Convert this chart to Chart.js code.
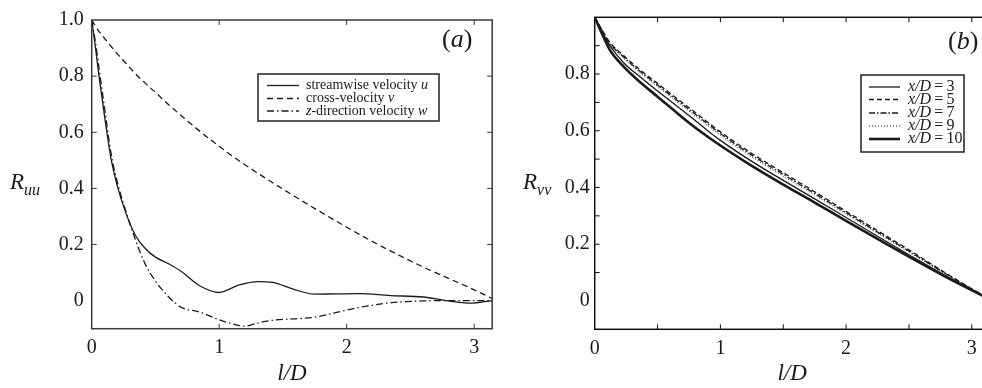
<!DOCTYPE html>
<html>
<head>
<meta charset="utf-8">
<script src="https://cdn.jsdelivr.net/npm/chart.js@4.4.1/dist/chart.umd.min.js"></script>
<style>
  html, body { margin: 0; padding: 0; background: #fff; width: 982px; height: 388px; overflow: hidden; }
  canvas { position: absolute; top: 0; }
  #chartA { left: 0; }
  #chartB { left: 500px; }
</style>
</head>
<body>
<canvas id="chartA" width="500" height="388"></canvas>
<canvas id="chartB" width="500" height="388"></canvas>
<script>
// ── Panel (a): correlation of the three velocity components ─────────────
const lagA = [0, 0.03, 0.06, 0.1, 0.15, 0.2, 0.27, 0.34, 0.42, 0.5, 0.6, 0.7, 0.85, 1.0,
              1.15, 1.2, 1.3, 1.42, 1.58, 1.75, 1.92, 2.1, 2.34, 2.6, 2.78, 2.97, 3.14];
const ruuStream = [1.0, 0.9, 0.79, 0.66, 0.51, 0.41, 0.31, 0.235, 0.186, 0.155, 0.132, 0.105, 0.052, 0.029,
                   0.055, 0.061, 0.068, 0.065, 0.041, 0.023, 0.024, 0.025, 0.018, 0.013, 0.0, -0.009, 0.0];
const ruuCross  = [1.0, 0.978, 0.958, 0.935, 0.907, 0.88, 0.845, 0.81, 0.775, 0.742, 0.7, 0.66, 0.603, 0.55,
                   0.5, 0.485, 0.455, 0.42, 0.375, 0.328, 0.283, 0.236, 0.178, 0.12, 0.083, 0.045, 0.008];
const ruuZdir   = [1.0, 0.92, 0.82, 0.69, 0.53, 0.425, 0.315, 0.221, 0.13, 0.07, 0.015, -0.023, -0.041, -0.068,
                   -0.088, -0.091, -0.08, -0.07, -0.065, -0.059, -0.042, -0.024, -0.008, -0.001, 0.0, 0.0, 0.0];
const xTicksA = [0, 1, 2, 3];
const yTicksA = [0, 0.2, 0.4, 0.6, 0.8, 1.0];
const xMarksA = [1, 2, 3];
const yMarksA = [0.2, 0.4, 0.6, 0.8];

// ── Panel (b): R_vv at several downstream stations ──────────────────────
const lagB = [0, 0.05, 0.12, 0.23, 0.36, 0.5, 0.63, 0.76, 0.88, 1.0, 1.25, 1.5, 1.75, 2.0, 2.25, 2.5, 2.8, 3.08, 3.14];
const rvvX3  = [1.0, 0.955, 0.9, 0.84, 0.79, 0.74, 0.695, 0.65, 0.607, 0.566, 0.492, 0.425, 0.36, 0.294, 0.228, 0.163, 0.087, 0.021, 0.008];
const rvvX5  = [1.0, 0.962, 0.912, 0.865, 0.815, 0.767, 0.722, 0.678, 0.637, 0.596, 0.52, 0.452, 0.385, 0.316, 0.248, 0.18, 0.096, 0.023, 0.009];
const rvvX7  = [1.0, 0.96, 0.908, 0.86, 0.81, 0.761, 0.716, 0.672, 0.631, 0.59, 0.514, 0.446, 0.379, 0.311, 0.243, 0.176, 0.094, 0.022, 0.009];
const rvvX9  = [1.0, 0.958, 0.905, 0.856, 0.805, 0.756, 0.71, 0.666, 0.625, 0.584, 0.508, 0.44, 0.374, 0.306, 0.239, 0.172, 0.092, 0.022, 0.008];
const rvvX10 = [1.0, 0.95, 0.885, 0.826, 0.772, 0.72, 0.672, 0.625, 0.585, 0.548, 0.476, 0.41, 0.347, 0.282, 0.219, 0.156, 0.083, 0.02, 0.007];
const xTicksB = [0, 1, 2, 3];
const yTicksB = [0, 0.2, 0.4, 0.6, 0.8];
const xMarksB = [0.5, 1, 1.5, 2, 2.5, 3];
const yMarksB = [0.1, 0.2, 0.3, 0.4, 0.5, 0.6, 0.7, 0.8, 0.9];

const SERIF = '"Liberation Serif", "Times New Roman", serif';
const INK = '#1a1a1a';

const pts = (xs, ys) => xs.map((x, i) => ({ x, y: ys[i] }));

function line(label, xs, ys, dash, width) {
  return {
    label, data: pts(xs, ys),
    borderColor: INK, borderWidth: width || 1.3, borderDash: dash || [],
    pointRadius: 0, cubicInterpolationMode: 'monotone', fill: false,
  };
}

// draw a run of [text, italic] pieces left to right
function richText(ctx, segs, x, y, size) {
  segs.forEach(([t, it]) => {
    ctx.font = (it ? 'italic ' : '') + size + 'px ' + SERIF;
    ctx.fillText(t, x, y);
    x += ctx.measureText(t).width;
  });
  return x;
}

// frame with inward tick marks, boxed legend, panel tag and ordinate symbol
const decorations = {
  id: 'decorations',
  afterDatasetsDraw(chart, args, o) {
    const { ctx, chartArea: a, scales: { x, y } } = chart;
    ctx.save();
    ctx.strokeStyle = o.frameColor;
    ctx.lineWidth = o.frameWidth;
    ctx.strokeRect(a.left, a.top, a.right - a.left, a.bottom - a.top);

    ctx.lineWidth = 1;
    ctx.beginPath();
    o.xMarks.forEach(v => {
      const p = x.getPixelForValue(v);
      ctx.moveTo(p, a.bottom); ctx.lineTo(p, a.bottom - 5);
      ctx.moveTo(p, a.top); ctx.lineTo(p, a.top + 5);
    });
    o.yMarks.forEach(v => {
      const p = y.getPixelForValue(v);
      ctx.moveTo(a.left, p); ctx.lineTo(a.left + 5, p);
      ctx.moveTo(a.right, p); ctx.lineTo(a.right - 5, p);
    });
    ctx.stroke();

    // legend box
    const L = o.legend;
    ctx.fillStyle = '#fff';
    ctx.fillRect(L.x, L.y, L.w, L.h);
    ctx.strokeStyle = '#222';
    ctx.lineWidth = 1.5;
    ctx.strokeRect(L.x, L.y, L.w, L.h);
    ctx.textBaseline = 'middle';
    ctx.fillStyle = INK;
    chart.data.datasets.forEach((ds, i) => {
      const cy = L.y + L.rows[i];
      ctx.save();
      ctx.strokeStyle = ds.borderColor;
      ctx.lineWidth = ds.borderWidth;
      ctx.setLineDash(ds.borderDash);
      ctx.beginPath();
      ctx.moveTo(L.x + L.s0, cy); ctx.lineTo(L.x + L.s1, cy);
      ctx.stroke();
      ctx.restore();
      richText(ctx, L.labels[i], L.x + L.tx, cy, L.size);
    });

    // panel tag, e.g. (a)
    ctx.textBaseline = 'middle';
    richText(ctx, [['(', false], [o.tag.text, true], [')', false]], o.tag.x, o.tag.y, 26);

    // ordinate symbol R with subscript
    ctx.textBaseline = 'alphabetic';
    const rx = richText(ctx, [['R', true]], o.sym.x, o.sym.y, 23);
    richText(ctx, [[o.sym.sub, true]], rx, o.sym.y + 6, 16);
    ctx.restore();
  }
};

function axes(opt) {
  return {
    x: {
      type: 'linear', min: 0, max: Math.PI,
      afterFit: s => { s.height = opt.xHeight; },
      afterBuildTicks: s => { s.ticks = opt.xTicks.map(v => ({ value: v })); },
      grid: { display: false, drawTicks: false },
      border: { display: false },
      ticks: { font: { family: SERIF, size: 20 }, color: INK, padding: 7, maxRotation: 0, autoSkip: false,
               callback: v => String(v) },
      title: { display: true, text: 'l/D', color: INK, padding: { top: 0, bottom: 0 },
               font: { family: SERIF, size: 23, style: 'italic' } },
    },
    y: {
      type: 'linear', min: -0.1, max: 1.0,
      afterFit: s => { s.width = opt.yWidth; },
      afterBuildTicks: s => { s.ticks = opt.yTicks.map(v => ({ value: v })); },
      grid: { display: false, drawTicks: false },
      border: { display: false },
      ticks: { font: { family: SERIF, size: 20 }, color: INK, padding: opt.yPad, autoSkip: false,
               callback: v => (v === 0 ? '0' : v.toFixed(1)) },
    },
  };
}

Chart.defaults.animation = false;

new Chart(document.getElementById('chartA'), {
  type: 'line',
  data: {
    datasets: [
      line('streamwise velocity u', lagA, ruuStream),
      line('cross-velocity v', lagA, ruuCross, [6, 4]),
      line('z-direction velocity w', lagA, ruuZdir, [7, 3, 1.5, 3]),
    ]
  },
  options: {
    responsive: false,
    layout: { padding: { top: 14, right: 7.8, left: 0, bottom: 0 } },
    scales: axes({ xHeight: 59.3, yWidth: 91.7, xTicks: xTicksA, yTicks: yTicksA, yPad: 8 }),
    plugins: {
      legend: { display: false },
      tooltip: { enabled: false },
      decorations: {
        frameColor: '#3a3a3a', frameWidth: 1.5, xMarks: xMarksA, yMarks: yMarksA,
        legend: { x: 258, y: 74, w: 181, h: 47, s0: 9, s1: 41, tx: 48, size: 14,
                  rows: [11.5, 24.5, 37],
                  labels: [
                    [['streamwise velocity ', false], ['u', true]],
                    [['cross-velocity ', false], ['v', true]],
                    [['z', true], ['-direction velocity ', false], ['w', true]],
                  ] },
        tag: { text: 'a', x: 442, y: 40 },
        sym: { x: 10, y: 189, sub: 'uu' },
      },
    },
  },
  plugins: [decorations],
});

new Chart(document.getElementById('chartB'), {
  type: 'line',
  data: {
    datasets: [
      line('x/D = 3', lagB, rvvX3),
      line('x/D = 5', lagB, rvvX5, [5, 3]),
      line('x/D = 7', lagB, rvvX7, [6, 2, 1.5, 2]),
      line('x/D = 9', lagB, rvvX9, [1, 2], 1),
      line('x/D = 10', lagB, rvvX10, null, 2.6),
    ]
  },
  options: {
    responsive: false,
    layout: { padding: { top: 17.3, right: 10.4, left: 0, bottom: 0 } },
    scales: axes({ xHeight: 58.7, yWidth: 94.7, xTicks: xTicksB, yTicks: yTicksB, yPad: 5 }),
    plugins: {
      legend: { display: false },
      tooltip: { enabled: false },
      decorations: {
        frameColor: '#111', frameWidth: 1.5, xMarks: xMarksB, yMarks: yMarksB,
        legend: { x: 361, y: 75, w: 103, h: 77, s0: 8, s1: 39, tx: 47, size: 16,
                  rows: [12, 24.5, 38, 51, 64],
                  labels: [3, 5, 7, 9, 10].map(n => [['x/D', true], ['\u2009=\u2009' + n, false]]) },
        tag: { text: 'b', x: 448, y: 42 },
        sym: { x: 23, y: 189, sub: 'vv' },
      },
    },
  },
  plugins: [decorations],
});
</script>
</body>
</html>
